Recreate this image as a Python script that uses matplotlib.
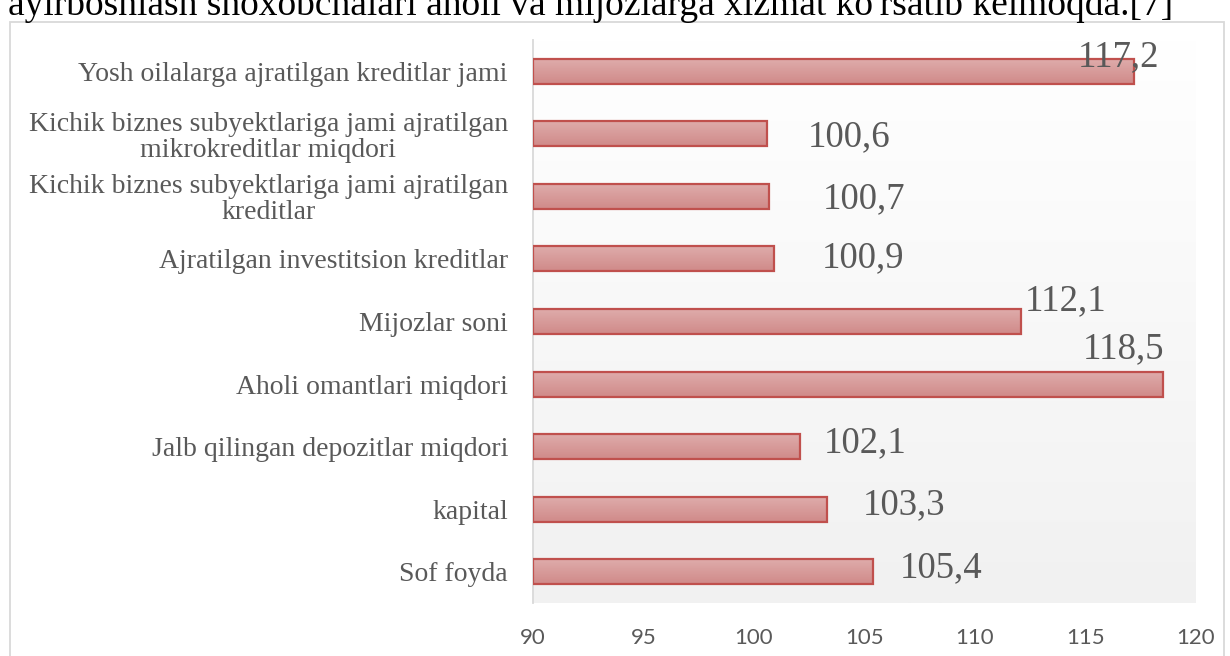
import matplotlib
matplotlib.use("Agg")
import matplotlib.pyplot as plt
import numpy as np
from matplotlib.colors import LinearSegmentedColormap
from matplotlib.patches import Rectangle

# data (bottom to top, as drawn by barh)
categories = [
    "Sof foyda",
    "kapital",
    "Jalb qilingan depozitlar miqdori",
    "Aholi omantlari miqdori",
    "Mijozlar soni",
    "Ajratilgan investitsion kreditlar",
    "Kichik biznes subyektlariga jami ajratilgan\nkreditlar",
    "Kichik biznes subyektlariga jami ajratilgan\nmikrokreditlar miqdori",
    "Yosh oilalarga ajratilgan kreditlar jami",
]
values = [105.4, 103.3, 102.1, 118.5, 112.1, 100.9, 100.7, 100.6, 117.2]
xticks = [90, 95, 100, 105, 110, 115, 120]

# hand placed data labels in the original (pixel offsets from bar end)
label_dx = [26, 36, 23, -80, 3, 48, 53, 40, -56]
label_dy = [4, 4, 4, 35, 21, 1, -3, -3, 14]

TEXT = "#595959"
serif = "Liberation Serif"

fig = plt.figure(figsize=(12.3, 6.56), dpi=100)

# text of the page above the chart, cut off at the top
fig.text(8 / 1230, 1 - 15 / 656, "ayirboshlash shoxobchalari aholi va mijozlarga xizmat ko'rsatib kelmoqda.[7]",
         family=serif, fontsize=27, color="black", va="baseline", ha="left")

# chart frame
fig.patches.append(Rectangle((10 / 1230, -0.05), 1214 / 1230, 1.05 - 22 / 656,
                             transform=fig.transFigure, fill=False,
                             edgecolor="#d9d9d9", linewidth=1.3))

ax = fig.add_axes([533 / 1230, 1 - 603 / 656, (1196 - 533) / 1230, (603 - 40) / 656])

# plot area gradient: white top -> light gray bottom
bg = LinearSegmentedColormap.from_list("bg", ["#f1f1f1", "#ffffff"])
ax.imshow(np.linspace(0, 1, 256).reshape(-1, 1), cmap=bg, aspect="auto",
          extent=[0, 1, 0, 1], transform=ax.transAxes, origin="lower", zorder=0)

y = np.arange(len(categories))
xmin = xticks[0]
bars = ax.barh(y, np.array(values) - xmin, left=xmin, height=0.4,
               color="none", edgecolor="#c0504d", linewidth=1.6, zorder=3)

# bar fill gradient
barcm = LinearSegmentedColormap.from_list("bar", ["#d08a89", "#dfadac"])
for b in bars:
    x0, y0, w, h = b.get_x(), b.get_y(), b.get_width(), b.get_height()
    im = ax.imshow(np.linspace(0, 1, 64).reshape(-1, 1), cmap=barcm, aspect="auto",
                   extent=[x0, x0 + w, y0, y0 + h], origin="lower", zorder=2)
    im.set_clip_path(b)

for i, v in enumerate(values):
    ax.annotate(f"{v:.1f}".replace(".", ","), (v, i),
                xytext=(label_dx[i], label_dy[i]), textcoords="offset pixels",
                ha="left", va="center", family=serif, fontsize=26.5, color=TEXT, zorder=4)

ax.set_xlim(xticks[0], xticks[-1])
ax.set_ylim(-0.5, len(categories) - 0.5)
ax.set_xticks(xticks)
ax.set_xticklabels([str(t) for t in xticks], family="Lato", fontsize=16, color=TEXT)
ax.set_yticks(y)
ax.set_yticklabels(categories, family=serif, fontsize=20, color=TEXT,
                   multialignment="center", linespacing=1.05)
ax.tick_params(axis="x", length=0, pad=18)
ax.tick_params(axis="y", length=0, pad=18)

for s in ["top", "right", "bottom"]:
    ax.spines[s].set_visible(False)
ax.spines["left"].set_color("#d9d9d9")
ax.spines["left"].set_linewidth(1.3)

fig.savefig("out.png", dpi=100)
